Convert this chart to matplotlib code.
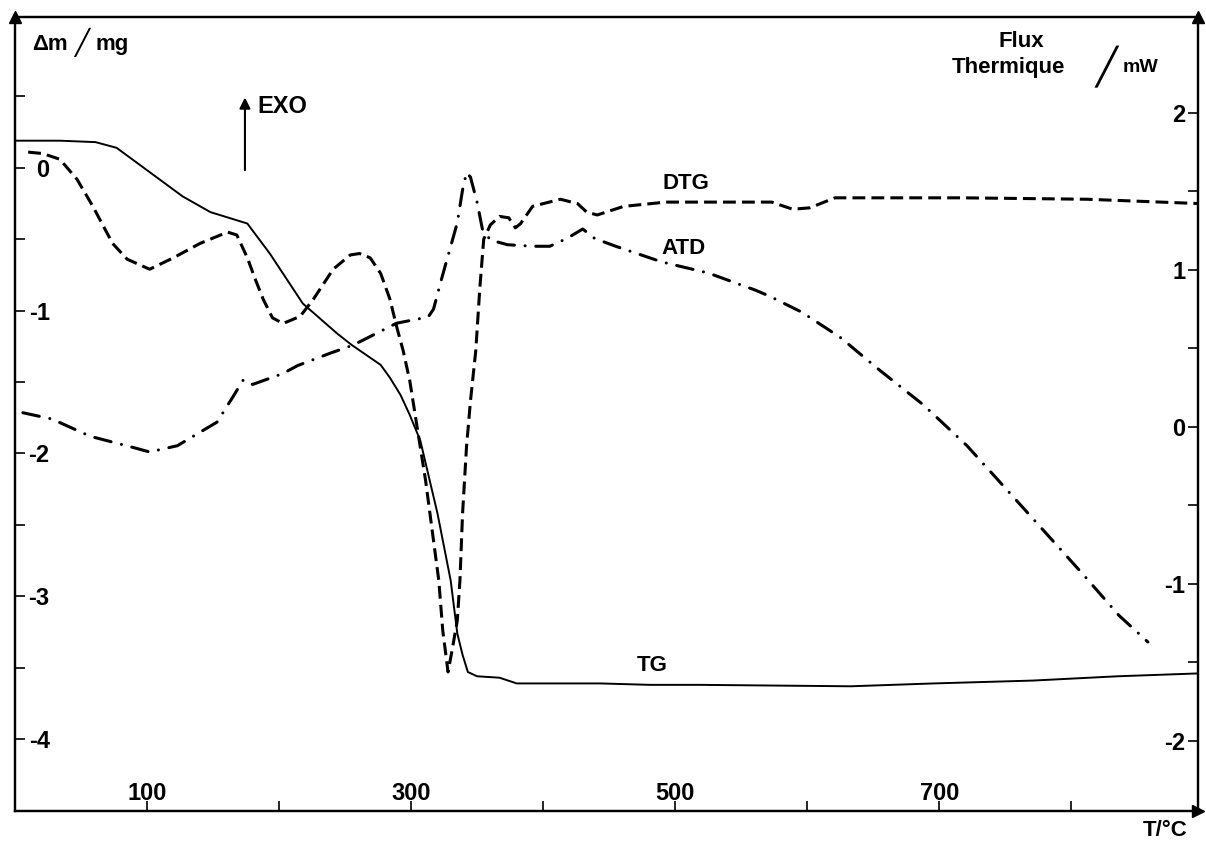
import matplotlib
matplotlib.use('Agg')
import matplotlib.pyplot as plt

plt.rcParams['font.family'] = ['Liberation Sans', 'DejaVu Sans']
plt.rcParams['font.weight'] = 'bold'
plt.rcParams['axes.unicode_minus'] = False

# TG : perte de masse (mg)
tg_T = [0, 34, 61, 77, 102, 127, 148, 176, 193, 218, 244, 255, 277, 284, 292, 299,
        307, 320, 330, 335, 339, 343, 350, 367, 380, 413, 443, 481, 519, 633, 696,
        771, 835, 896]
tg_m = [0.19, 0.19, 0.18, 0.14, -0.03, -0.20, -0.31, -0.39, -0.60, -0.95, -1.16,
        -1.24, -1.38, -1.47, -1.59, -1.73, -1.91, -2.42, -2.89, -3.26, -3.41, -3.53,
        -3.56, -3.57, -3.61, -3.61, -3.61, -3.62, -3.62, -3.63, -3.61, -3.59, -3.56,
        -3.54]

# DTG (unites arbitraires, echelle de gauche)
dtg_T = [10, 21, 34, 47, 59, 74, 85, 102, 120, 140, 161, 168, 176, 182, 188, 195,
         203, 216, 226, 241, 254, 261, 269, 277, 284, 289, 294, 299, 305, 311, 316,
         321, 324, 328, 331, 335, 337, 339, 342, 345, 349, 352, 355, 360, 367, 374,
         379, 383, 392, 413, 426, 433, 441, 461, 493, 573, 589, 602, 621, 717, 812, 896]
dtg_v = [0.11, 0.10, 0.06, -0.08, -0.27, -0.53, -0.64, -0.71, -0.63, -0.53, -0.45,
         -0.47, -0.63, -0.78, -0.92, -1.05, -1.09, -1.04, -0.92, -0.71, -0.61, -0.60,
         -0.63, -0.74, -0.92, -1.11, -1.28, -1.49, -1.84, -2.19, -2.54, -2.89, -3.24,
         -3.53, -3.38, -3.17, -2.89, -2.42, -1.95, -1.63, -1.28, -0.85, -0.50, -0.40,
         -0.34, -0.35, -0.42, -0.39, -0.27, -0.22, -0.25, -0.31, -0.33, -0.27, -0.24,
         -0.24, -0.29, -0.28, -0.21, -0.21, -0.22, -0.25]

# ATD : flux thermique (mW)
atd_T = [6, 28, 57, 89, 102, 123, 153, 165, 173, 180, 203, 214, 239, 256, 289, 313,
         317, 324, 335, 339, 342, 345, 350, 354, 360, 373, 392, 405, 418, 430, 439,
         455, 490, 525, 561, 572, 596, 625, 655, 688, 721, 749, 779, 809, 836, 858]
atd_F = [0.09, 0.05, -0.06, -0.13, -0.16, -0.12, 0.03, 0.19, 0.30, 0.27, 0.34, 0.39,
         0.47, 0.52, 0.66, 0.70, 0.75, 0.97, 1.30, 1.51, 1.62, 1.59, 1.43, 1.26, 1.19,
         1.16, 1.15, 1.15, 1.20, 1.26, 1.20, 1.15, 1.05, 0.98, 0.87, 0.83, 0.73, 0.57,
         0.36, 0.14, -0.12, -0.38, -0.66, -0.94, -1.20, -1.37]

x_major = [100, 300, 500, 700]
x_minor = [200, 400, 600, 800]
m_major = [0, -1, -2, -3, -4]
m_minor = [0.5, -0.5, -1.5, -2.5, -3.5]
f_major = [2, 1, 0, -1, -2]
f_minor = [1.5, 0.5, -0.5, -1.5]

fig = plt.figure(figsize=(12.06, 8.43), dpi=100)
ax = fig.add_axes([0.0124, 0.038, 0.981, 0.942])
ax2 = ax.twinx()

ax.plot(tg_T, tg_m, color='k', lw=1.4)
ax.plot(dtg_T, dtg_v, color='k', lw=2.2, dashes=(4.2, 2.0))
ax2.plot(atd_T, atd_F, color='k', lw=2.2, dashes=(5.5, 3.5, 0.01, 3.5),
         dash_capstyle='round')

ax.set_xlim(0, 896)
ax.set_ylim(-4.503, 1.057)
ax2.set_ylim(-2.446, 2.611)

for a in (ax, ax2):
    for s in a.spines.values():
        s.set_linewidth(1.6)

ax.set_xticks(x_major)
ax.set_xticks(x_minor, minor=True)
ax.set_yticks(m_major)
ax.set_yticks(m_minor, minor=True)
ax.tick_params(axis='x', which='both', direction='in', length=7, width=1.2,
               top=False, pad=-4.5, labelsize=17)
ax.tick_params(axis='y', which='both', direction='in', length=7, width=1.2,
               right=False, pad=-25, labelsize=17)
for lab in ax.get_xticklabels():
    lab.set_verticalalignment('bottom')
for lab in ax.get_yticklabels():
    lab.set_horizontalalignment('right')

ax2.set_yticks(f_major)
ax2.set_yticks(f_minor, minor=True)
ax2.tick_params(axis='y', which='both', direction='in', length=7, width=1.2,
                pad=-9, labelsize=17)
for lab in ax2.get_yticklabels():
    lab.set_horizontalalignment('right')

# fleches des axes
kw = dict(transform=ax.transAxes, clip_on=False, color='k', ms=9, zorder=5)
ax.plot([0], [1.0], marker='^', **kw)
ax.plot([1], [1.0], marker='^', **kw)
ax.plot([1.0], [0], marker='>', **kw)

# titres des axes
ax.text(0.0144, 0.958, 'Δm', transform=ax.transAxes, fontsize=16, va='baseline')
ax.text(0.0566, 0.968, '╱', transform=ax.transAxes, fontsize=18, ha='center',
        va='center', family='DejaVu Sans', weight='normal')
ax.text(0.068, 0.958, 'mg', transform=ax.transAxes, fontsize=16, va='baseline')

ax.text(0.851, 0.962, 'Flux', transform=ax.transAxes, fontsize=16, ha='center',
        va='baseline')
ax.text(0.792, 0.9295, 'Thermique', transform=ax.transAxes, fontsize=16,
        va='baseline')
ax.text(0.923, 0.937, '╱', transform=ax.transAxes, fontsize=26, ha='center',
        va='center', family='DejaVu Sans', weight='normal')
ax.text(0.936, 0.931, 'mW', transform=ax.transAxes, fontsize=14, va='baseline')

ax.text(0.972, -0.024, 'T/°C', transform=ax.transAxes, fontsize=16, ha='center',
        va='center', clip_on=False)

# EXO
ax.annotate('', xy=(0.1944, 0.902), xytext=(0.1944, 0.8035), xycoords='axes fraction',
            arrowprops=dict(arrowstyle='-|>', color='k', lw=1.5, mutation_scale=16))
ax.text(0.2046, 0.8866, 'EXO', transform=ax.transAxes, fontsize=17, va='center')

# noms des courbes
ax.text(0.567, 0.7897, 'DTG', transform=ax.transAxes, fontsize=16, ha='center',
        va='center')
ax.text(0.5647, 0.7078, 'ATD', transform=ax.transAxes, fontsize=16, ha='center',
        va='center')
ax.text(0.5385, 0.183, 'TG', transform=ax.transAxes, fontsize=16, ha='center',
        va='center')

fig.savefig('out.png', dpi=100)
